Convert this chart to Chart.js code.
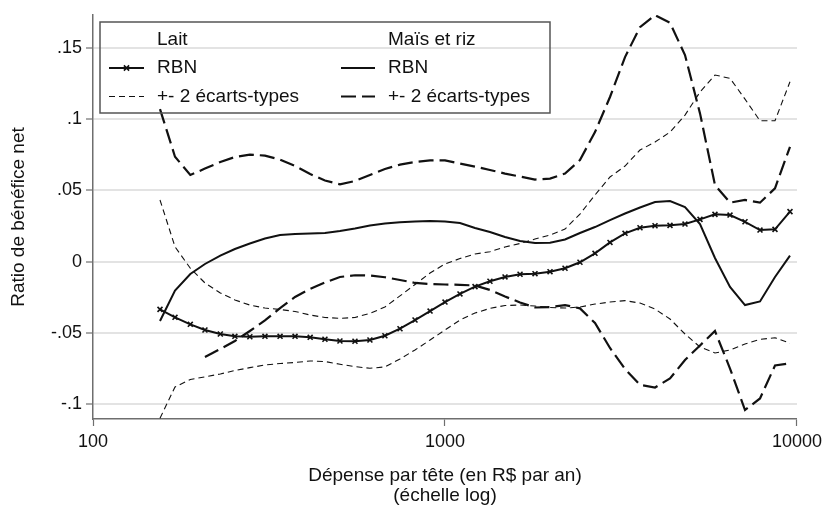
<!DOCTYPE html>
<html>
<head>
<meta charset="utf-8">
<script src="https://cdn.jsdelivr.net/npm/chart.js@4/dist/chart.umd.min.js"></script>
<style>
  body { margin: 0; background: #fff; }
  canvas { display: block; }
</style>
</head>
<body>
<canvas id="chart" width="827" height="506"></canvas>
<script>
// dépense par tête (R$ / an), grille commune des courbes
const spending = [155,171,189,208,230,253,279,308,340,375,414,456,503,555,612,675,745,822,907,1000,1103,1217,1342,1481,1634,1802,1988,2193,2418,2668,2943,3247,3581,3951,4358,4807,5303,5848,6453,7118,7852,8661,9553];

const laitRbn = [-0.0334,-0.039,-0.0439,-0.0479,-0.0507,-0.0523,-0.0526,-0.0523,-0.0523,-0.0523,
  -0.053,-0.0544,-0.0556,-0.0558,-0.0549,-0.0519,-0.047,-0.0409,-0.0346,-0.0283,
  -0.0226,-0.0175,-0.0137,-0.0107,-0.0088,-0.0084,-0.007,-0.0046,-0.0004,0.0059,
  0.0135,0.0199,0.0238,0.0252,0.0255,0.0264,0.0297,0.0332,0.0327,0.028,
  0.0222,0.0227,0.0351];
const laitHigh = [0.0433,0.0105,-0.0046,-0.0149,-0.0219,-0.0268,-0.0304,-0.0325,-0.0335,-0.0349,
  -0.0374,-0.0391,-0.0397,-0.0391,-0.0362,-0.0318,-0.024,-0.016,-0.0079,-0.0016,
  0.0022,0.0054,0.007,0.0103,0.0128,0.0159,0.0187,0.0229,0.0334,0.0468,
  0.0594,0.0671,0.0783,0.0839,0.0909,0.1028,0.119,0.1309,0.1286,0.114,
  0.0988,0.0988,0.1262];
const laitLow = [-0.1098,-0.0878,-0.0826,-0.0808,-0.0787,-0.0763,-0.0743,-0.0724,-0.0714,-0.0707,
  -0.0696,-0.07,-0.0719,-0.0736,-0.0747,-0.0738,-0.0682,-0.0619,-0.0549,-0.0479,
  -0.0409,-0.036,-0.0327,-0.0307,-0.0304,-0.0311,-0.0321,-0.0325,-0.0318,-0.0297,
  -0.0283,-0.0273,-0.029,-0.0332,-0.0402,-0.0507,-0.0598,-0.064,-0.0619,-0.0577,
  -0.0545,-0.0533,-0.0572];
const maisRbn = [-0.0416,-0.0202,-0.0086,-0.0016,0.0043,0.0089,0.0128,0.0163,0.0187,0.0194,
  0.0198,0.0201,0.0215,0.0233,0.0254,0.0268,0.0276,0.0282,0.0285,0.0282,
  0.0271,0.0236,0.0208,0.0173,0.0145,0.0131,0.0133,0.0156,0.0201,0.0243,
  0.0292,0.0338,0.038,0.0418,0.0425,0.0383,0.0264,0.0026,-0.0177,-0.0304,
  -0.0279,-0.0107,0.0043];
const maisHigh = [0.107,0.0736,0.0608,0.0653,0.0699,0.0734,0.0751,0.0744,0.0716,0.0671,
  0.0615,0.0569,0.0543,0.0566,0.0608,0.065,0.0681,0.0699,0.071,0.071,
  0.0688,0.0667,0.0643,0.0618,0.0597,0.0576,0.0583,0.0618,0.0713,0.0909,
  0.1155,0.1435,0.1645,0.1729,0.1675,0.1449,0.104,0.0538,0.0414,0.0433,
  0.0414,0.0515,0.0806];
const maisLow = [null,null,null,-0.0668,-0.0612,-0.0556,-0.0486,-0.0412,-0.0325,-0.0247,
  -0.0191,-0.0146,-0.0107,-0.0095,-0.0097,-0.0109,-0.0128,-0.0149,-0.0156,-0.016,
  -0.0162,-0.0167,-0.0198,-0.0244,-0.0286,-0.0321,-0.0318,-0.0304,-0.0327,-0.043,
  -0.0605,-0.0752,-0.0864,-0.0882,-0.0819,-0.0689,-0.0587,-0.0486,-0.0749,-0.104,
  -0.0959,-0.0728,-0.0712];

const xTicks = [100, 1000, 10000];
const yTicks = [-0.1, -0.05, 0, 0.05, 0.1, 0.15];

const FONT = "'Liberation Sans', Arial, sans-serif";
const INK = "#111";
const AXIS = "#6e6e6e";

function pts(values) {
  return spending.map((x, i) => ({x: x, y: values[i]}));
}

// styles des séries
const thinDash = {borderColor: INK, borderWidth: 1.1, borderDash: [6, 4], pointRadius: 0};
const longDash = {borderColor: INK, borderWidth: 2.2, borderDash: [15, 6], pointRadius: 0};

const datasets = [
  {label: "Lait RBN", data: pts(laitRbn), borderColor: INK, borderWidth: 2,
   pointStyle: "crossRot", pointRadius: 3.5, pointBorderWidth: 1.6, pointBorderColor: INK},
  Object.assign({label: "Lait +2", data: pts(laitHigh)}, thinDash),
  Object.assign({label: "Lait -2", data: pts(laitLow)}, thinDash),
  {label: "Maïs RBN", data: pts(maisRbn), borderColor: INK, borderWidth: 2, pointRadius: 0},
  Object.assign({label: "Maïs +2", data: pts(maisHigh)}, longDash),
  Object.assign({label: "Maïs -2", data: pts(maisLow)}, longDash)
];

// légende encadrée à deux colonnes, façon Stata
const legendBox = {
  id: "legendBox",
  afterDatasetsDraw(chart) {
    const ctx = chart.ctx;
    ctx.save();
    ctx.strokeStyle = "#555";
    ctx.lineWidth = 1.5;
    ctx.setLineDash([]);
    ctx.strokeRect(100, 22, 450, 91);

    ctx.font = "19px " + FONT;
    ctx.fillStyle = INK;
    ctx.textBaseline = "middle";
    const cols = [
      {x0: 109, x1: 144, tx: 157, title: "Lait", rbn: datasets[0], band: datasets[1], marker: true},
      {x0: 341, x1: 375, tx: 388, title: "Maïs et riz", rbn: datasets[3], band: datasets[4], marker: false}
    ];
    cols.forEach(c => {
      ctx.fillText(c.title, c.tx, 40);
      ctx.fillText("RBN", c.tx, 68);
      ctx.fillText("+- 2 écarts-types", c.tx, 96.5);

      ctx.strokeStyle = INK;
      ctx.lineWidth = c.rbn.borderWidth;
      ctx.setLineDash([]);
      ctx.beginPath(); ctx.moveTo(c.x0, 68); ctx.lineTo(c.x1, 68); ctx.stroke();
      if (c.marker) {
        const m = (c.x0 + c.x1) / 2, r = 2.6;
        ctx.lineWidth = 1.6;
        ctx.beginPath();
        ctx.moveTo(m - r, 68 - r); ctx.lineTo(m + r, 68 + r);
        ctx.moveTo(m - r, 68 + r); ctx.lineTo(m + r, 68 - r);
        ctx.stroke();
      }
      ctx.lineWidth = c.band.borderWidth;
      ctx.setLineDash(c.band.borderDash);
      ctx.beginPath(); ctx.moveTo(c.x0, 96.5); ctx.lineTo(c.x1, 96.5); ctx.stroke();
    });
    ctx.restore();
  }
};

new Chart(document.getElementById("chart"), {
  type: "line",
  data: {datasets: datasets},
  plugins: [legendBox],
  options: {
    responsive: false,
    animation: false,
    layout: {padding: {top: 15, right: 30, left: 0, bottom: 0}},
    plugins: {legend: {display: false}, tooltip: {enabled: false}},
    elements: {line: {tension: 0, fill: false}},
    scales: {
      x: {
        type: "logarithmic",
        min: 100,
        max: 10000,
        afterBuildTicks: s => { s.ticks = xTicks.map(v => ({value: v})); },
        afterFit: s => { s.height = 87; },
        ticks: {
          callback: v => String(v),
          font: {family: FONT, size: 18},
          color: INK,
          padding: 5,
          maxRotation: 0,
          autoSkip: false
        },
        grid: {drawOnChartArea: false, drawTicks: true, tickLength: 7, tickColor: AXIS, tickWidth: 1.2},
        border: {color: AXIS, width: 1.5},
        title: {
          display: true,
          text: ["Dépense par tête (en R$ par an)", "(échelle log)"],
          font: {family: FONT, size: 19, lineHeight: 1.05},
          color: INK,
          padding: {top: 0, bottom: 0}
        }
      },
      y: {
        min: -0.1103,
        max: 0.173,
        afterBuildTicks: s => { s.ticks = yTicks.map(v => ({value: v})); },
        afterFit: s => { s.width = 93; },
        ticks: {
          callback: v => v === 0 ? "0" : (v < 0 ? "-" : "") + String(Math.abs(v)).replace(/^0/, ""),
          font: {family: FONT, size: 18},
          color: INK,
          padding: 4
        },
        grid: {color: "#e3e3e3", lineWidth: 2, drawTicks: true, tickLength: 7, tickColor: AXIS, tickWidth: 1.2},
        border: {color: AXIS, width: 1.5},
        title: {
          display: true,
          text: "Ratio de bénéfice net",
          font: {family: FONT, size: 19, lineHeight: 1.05},
          color: INK,
          padding: {top: 9, bottom: 0}
        }
      }
    }
  }
});
</script>
</body>
</html>
